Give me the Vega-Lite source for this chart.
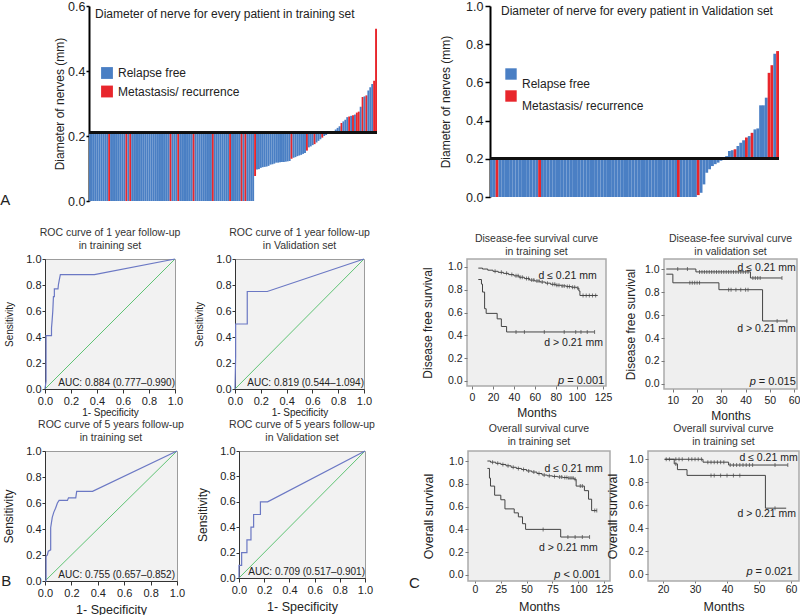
{
  "$schema": "https://vega.github.io/schema/vega-lite/v6.json",
  "padding": 0,
  "background": "white",
  "config": {
    "font": "Liberation Sans",
    "view": {"stroke": null},
    "axis": {"grid": false, "labelFont": "Liberation Sans", "titleFont": "Liberation Sans", "titleFontWeight": "normal", "labelColor": "#222", "titleColor": "#222", "domainColor": "#333", "tickColor": "#333"},
    "title": {"font": "Liberation Sans", "fontWeight": "normal", "fontSize": 10.5, "color": "#333", "lineHeight": 12.5, "offset": 2},
    "text": {"font": "Liberation Sans"}
  },
  "datasets": {
    "a1": [
      {"i":1,"d":0,"s":"RF"},{"i":2,"d":0,"s":"RF"},{"i":3,"d":0,"s":"RF"},{"i":4,"d":0,"s":"RF"},{"i":5,"d":0,"s":"RF"},{"i":6,"d":0,"s":"RF"},{"i":7,"d":0,"s":"RF"},{"i":8,"d":0,"s":"RF"},{"i":9,"d":0,"s":"RF"},{"i":10,"d":0,"s":"RF"},
      {"i":11,"d":0,"s":"MR"},{"i":12,"d":0,"s":"RF"},{"i":13,"d":0,"s":"RF"},{"i":14,"d":0,"s":"RF"},{"i":15,"d":0,"s":"RF"},{"i":16,"d":0,"s":"RF"},{"i":17,"d":0,"s":"RF"},{"i":18,"d":0,"s":"RF"},{"i":19,"d":0,"s":"RF"},{"i":20,"d":0,"s":"MR"},
      {"i":21,"d":0,"s":"RF"},{"i":22,"d":0,"s":"MR"},{"i":23,"d":0,"s":"RF"},{"i":24,"d":0,"s":"RF"},{"i":25,"d":0,"s":"RF"},{"i":26,"d":0,"s":"RF"},{"i":27,"d":0,"s":"RF"},{"i":28,"d":0,"s":"RF"},{"i":29,"d":0,"s":"RF"},{"i":30,"d":0,"s":"RF"},
      {"i":31,"d":0,"s":"RF"},{"i":32,"d":0,"s":"RF"},{"i":33,"d":0,"s":"RF"},{"i":34,"d":0,"s":"RF"},{"i":35,"d":0,"s":"RF"},{"i":36,"d":0,"s":"RF"},{"i":37,"d":0,"s":"RF"},{"i":38,"d":0,"s":"RF"},{"i":39,"d":0,"s":"RF"},{"i":40,"d":0,"s":"RF"},
      {"i":41,"d":0,"s":"RF"},{"i":42,"d":0,"s":"RF"},{"i":43,"d":0,"s":"MR"},{"i":44,"d":0,"s":"RF"},{"i":45,"d":0,"s":"RF"},{"i":46,"d":0,"s":"RF"},{"i":47,"d":0,"s":"MR"},{"i":48,"d":0,"s":"RF"},{"i":49,"d":0,"s":"RF"},{"i":50,"d":0,"s":"RF"},
      {"i":51,"d":0,"s":"RF"},{"i":52,"d":0,"s":"RF"},{"i":53,"d":0,"s":"RF"},{"i":54,"d":0,"s":"RF"},{"i":55,"d":0,"s":"MR"},{"i":56,"d":0,"s":"RF"},{"i":57,"d":0,"s":"RF"},{"i":58,"d":0,"s":"RF"},{"i":59,"d":0,"s":"RF"},{"i":60,"d":0,"s":"RF"},
      {"i":61,"d":0,"s":"RF"},{"i":62,"d":0,"s":"RF"},{"i":63,"d":0,"s":"RF"},{"i":64,"d":0,"s":"RF"},{"i":65,"d":0,"s":"MR"},{"i":66,"d":0,"s":"RF"},{"i":67,"d":0,"s":"RF"},{"i":68,"d":0,"s":"RF"},{"i":69,"d":0,"s":"RF"},{"i":70,"d":0,"s":"RF"},
      {"i":71,"d":0,"s":"RF"},{"i":72,"d":0,"s":"RF"},{"i":73,"d":0,"s":"RF"},{"i":74,"d":0,"s":"MR"},{"i":75,"d":0,"s":"RF"},{"i":76,"d":0,"s":"RF"},{"i":77,"d":0,"s":"RF"},{"i":78,"d":0,"s":"RF"},{"i":79,"d":0,"s":"RF"},{"i":80,"d":0,"s":"MR"},
      {"i":81,"d":0,"s":"RF"},{"i":82,"d":0,"s":"MR"},{"i":83,"d":0,"s":"RF"},{"i":84,"d":0,"s":"RF"},{"i":85,"d":0,"s":"RF"},{"i":86,"d":0,"s":"RF"},{"i":87,"d":0.077,"s":"MR"},{"i":88,"d":0.097,"s":"RF"},{"i":89,"d":0.098,"s":"RF"},{"i":90,"d":0.102,"s":"RF"},
      {"i":91,"d":0.104,"s":"RF"},{"i":92,"d":0.105,"s":"RF"},{"i":93,"d":0.106,"s":"RF"},{"i":94,"d":0.108,"s":"RF"},{"i":95,"d":0.112,"s":"RF"},{"i":96,"d":0.113,"s":"RF"},{"i":97,"d":0.115,"s":"RF"},{"i":98,"d":0.118,"s":"RF"},{"i":99,"d":0.118,"s":"RF"},{"i":100,"d":0.119,"s":"RF"},
      {"i":101,"d":0.12,"s":"RF"},{"i":102,"d":0.12,"s":"RF"},{"i":103,"d":0.121,"s":"RF"},{"i":104,"d":0.122,"s":"RF"},{"i":105,"d":0.123,"s":"RF"},{"i":106,"d":0.13,"s":"MR"},{"i":107,"d":0.133,"s":"RF"},{"i":108,"d":0.135,"s":"RF"},{"i":109,"d":0.138,"s":"RF"},{"i":110,"d":0.14,"s":"RF"},
      {"i":111,"d":0.142,"s":"RF"},{"i":112,"d":0.145,"s":"RF"},{"i":113,"d":0.148,"s":"RF"},{"i":114,"d":0.155,"s":"MR"},{"i":115,"d":0.165,"s":"RF"},{"i":116,"d":0.168,"s":"RF"},{"i":117,"d":0.172,"s":"RF"},{"i":118,"d":0.175,"s":"MR"},{"i":119,"d":0.18,"s":"RF"},{"i":120,"d":0.185,"s":"RF"},
      {"i":121,"d":0.19,"s":"RF"},{"i":122,"d":0.195,"s":"MR"},{"i":123,"d":0.2,"s":"RF"},{"i":124,"d":0.203,"s":"RF"},{"i":125,"d":0.206,"s":"RF"},{"i":126,"d":0.208,"s":"RF"},{"i":127,"d":0.21,"s":"RF"},{"i":128,"d":0.215,"s":"RF"},{"i":129,"d":0.22,"s":"RF"},{"i":130,"d":0.225,"s":"RF"},
      {"i":131,"d":0.23,"s":"RF"},{"i":132,"d":0.24,"s":"MR"},{"i":133,"d":0.245,"s":"RF"},{"i":134,"d":0.25,"s":"RF"},{"i":135,"d":0.258,"s":"RF"},{"i":136,"d":0.26,"s":"MR"},{"i":137,"d":0.262,"s":"RF"},{"i":138,"d":0.264,"s":"MR"},{"i":139,"d":0.266,"s":"RF"},{"i":140,"d":0.272,"s":"MR"},
      {"i":141,"d":0.275,"s":"MR"},{"i":142,"d":0.29,"s":"RF"},{"i":143,"d":0.32,"s":"MR"},{"i":144,"d":0.322,"s":"RF"},{"i":145,"d":0.325,"s":"MR"},{"i":146,"d":0.34,"s":"RF"},{"i":147,"d":0.35,"s":"RF"},{"i":148,"d":0.36,"s":"RF"},{"i":149,"d":0.37,"s":"MR"},{"i":150,"d":0.53,"s":"MR"}
    ],
    "a2": [
      {"i":1,"d":0,"s":"RF"},{"i":2,"d":0,"s":"RF"},{"i":3,"d":0,"s":"MR"},{"i":4,"d":0,"s":"RF"},{"i":5,"d":0,"s":"RF"},{"i":6,"d":0,"s":"RF"},{"i":7,"d":0,"s":"RF"},{"i":8,"d":0,"s":"RF"},{"i":9,"d":0,"s":"RF"},{"i":10,"d":0,"s":"RF"},
      {"i":11,"d":0,"s":"RF"},{"i":12,"d":0,"s":"RF"},{"i":13,"d":0,"s":"RF"},{"i":14,"d":0,"s":"RF"},{"i":15,"d":0,"s":"RF"},{"i":16,"d":0,"s":"RF"},{"i":17,"d":0,"s":"RF"},{"i":18,"d":0,"s":"MR"},{"i":19,"d":0,"s":"RF"},{"i":20,"d":0,"s":"RF"},
      {"i":21,"d":0,"s":"RF"},{"i":22,"d":0,"s":"RF"},{"i":23,"d":0,"s":"RF"},{"i":24,"d":0,"s":"RF"},{"i":25,"d":0,"s":"RF"},{"i":26,"d":0,"s":"RF"},{"i":27,"d":0,"s":"RF"},{"i":28,"d":0,"s":"RF"},{"i":29,"d":0,"s":"RF"},{"i":30,"d":0,"s":"RF"},
      {"i":31,"d":0,"s":"RF"},{"i":32,"d":0,"s":"RF"},{"i":33,"d":0,"s":"RF"},{"i":34,"d":0,"s":"RF"},{"i":35,"d":0,"s":"RF"},{"i":36,"d":0,"s":"RF"},{"i":37,"d":0,"s":"RF"},{"i":38,"d":0,"s":"RF"},{"i":39,"d":0,"s":"RF"},{"i":40,"d":0,"s":"RF"},
      {"i":41,"d":0,"s":"RF"},{"i":42,"d":0,"s":"RF"},{"i":43,"d":0,"s":"RF"},{"i":44,"d":0,"s":"RF"},{"i":45,"d":0,"s":"RF"},{"i":46,"d":0,"s":"RF"},{"i":47,"d":0,"s":"RF"},{"i":48,"d":0,"s":"RF"},{"i":49,"d":0,"s":"RF"},{"i":50,"d":0,"s":"RF"},
      {"i":51,"d":0,"s":"RF"},{"i":52,"d":0,"s":"RF"},{"i":53,"d":0,"s":"RF"},{"i":54,"d":0,"s":"RF"},{"i":55,"d":0,"s":"RF"},{"i":56,"d":0,"s":"RF"},{"i":57,"d":0,"s":"RF"},{"i":58,"d":0,"s":"RF"},{"i":59,"d":0,"s":"RF"},{"i":60,"d":0,"s":"RF"},
      {"i":61,"d":0,"s":"RF"},{"i":62,"d":0,"s":"RF"},{"i":63,"d":0,"s":"RF"},{"i":64,"d":0,"s":"RF"},{"i":65,"d":0,"s":"RF"},{"i":66,"d":0,"s":"RF"},{"i":67,"d":0,"s":"MR"},{"i":68,"d":0,"s":"RF"},{"i":69,"d":0,"s":"RF"},{"i":70,"d":0,"s":"RF"},
      {"i":71,"d":0,"s":"RF"},{"i":72,"d":0,"s":"RF"},{"i":73,"d":0,"s":"RF"},{"i":74,"d":0.01,"s":"MR"},{"i":75,"d":0.022,"s":"RF"},{"i":76,"d":0.066,"s":"RF"},{"i":77,"d":0.127,"s":"RF"},{"i":78,"d":0.145,"s":"RF"},{"i":79,"d":0.162,"s":"RF"},{"i":80,"d":0.172,"s":"RF"},
      {"i":81,"d":0.18,"s":"RF"},{"i":82,"d":0.19,"s":"RF"},{"i":83,"d":0.2,"s":"RF"},{"i":84,"d":0.214,"s":"RF"},{"i":85,"d":0.241,"s":"RF"},{"i":86,"d":0.245,"s":"RF"},{"i":87,"d":0.25,"s":"MR"},{"i":88,"d":0.267,"s":"RF"},{"i":89,"d":0.284,"s":"RF"},{"i":90,"d":0.297,"s":"RF"},
      {"i":91,"d":0.311,"s":"MR"},{"i":92,"d":0.319,"s":"RF"},{"i":93,"d":0.336,"s":"MR"},{"i":94,"d":0.354,"s":"RF"},{"i":95,"d":0.359,"s":"RF"},{"i":96,"d":0.48,"s":"RF"},{"i":97,"d":0.48,"s":"RF"},{"i":98,"d":0.52,"s":"RF"},{"i":99,"d":0.65,"s":"MR"},{"i":100,"d":0.69,"s":"MR"},
      {"i":101,"d":0.75,"s":"RF"},{"i":102,"d":0.764,"s":"MR"}
    ],
    "roc": [
      {"p":"b1","k":1,"x":0,"y":0},{"p":"b1","k":2,"x":0.008,"y":0.06},{"p":"b1","k":3,"x":0.008,"y":0.41},{"p":"b1","k":4,"x":0.02,"y":0.41},{"p":"b1","k":5,"x":0.05,"y":0.41},{"p":"b1","k":6,"x":0.05,"y":0.47},{"p":"b1","k":7,"x":0.055,"y":0.53},{"p":"b1","k":8,"x":0.06,"y":0.6},{"p":"b1","k":9,"x":0.065,"y":0.71},{"p":"b1","k":10,"x":0.072,"y":0.71},{"p":"b1","k":11,"x":0.072,"y":0.77},{"p":"b1","k":12,"x":0.1,"y":0.77},{"p":"b1","k":13,"x":0.103,"y":0.8},{"p":"b1","k":14,"x":0.11,"y":0.84},{"p":"b1","k":15,"x":0.118,"y":0.88},{"p":"b1","k":16,"x":0.38,"y":0.88},{"p":"b1","k":17,"x":1,"y":1},
      {"p":"b2","k":1,"x":0,"y":0},{"p":"b2","k":2,"x":0.005,"y":0.25},{"p":"b2","k":3,"x":0.005,"y":0.5},{"p":"b2","k":4,"x":0.095,"y":0.5},{"p":"b2","k":5,"x":0.095,"y":0.75},{"p":"b2","k":6,"x":0.25,"y":0.75},{"p":"b2","k":7,"x":1,"y":1},
      {"p":"b3","k":1,"x":0,"y":0},{"p":"b3","k":2,"x":0.008,"y":0},{"p":"b3","k":3,"x":0.008,"y":0.19},{"p":"b3","k":4,"x":0.018,"y":0.2},{"p":"b3","k":5,"x":0.025,"y":0.23},{"p":"b3","k":6,"x":0.043,"y":0.24},{"p":"b3","k":7,"x":0.043,"y":0.41},{"p":"b3","k":8,"x":0.055,"y":0.49},{"p":"b3","k":9,"x":0.067,"y":0.53},{"p":"b3","k":10,"x":0.08,"y":0.56},{"p":"b3","k":11,"x":0.094,"y":0.6},{"p":"b3","k":12,"x":0.107,"y":0.62},{"p":"b3","k":13,"x":0.17,"y":0.62},{"p":"b3","k":14,"x":0.178,"y":0.64},{"p":"b3","k":15,"x":0.233,"y":0.64},{"p":"b3","k":16,"x":0.24,"y":0.69},{"p":"b3","k":17,"x":0.36,"y":0.69},{"p":"b3","k":18,"x":1,"y":1},
      {"p":"b4","k":1,"x":0,"y":0},{"p":"b4","k":2,"x":0,"y":0.1},{"p":"b4","k":3,"x":0.021,"y":0.1},{"p":"b4","k":4,"x":0.021,"y":0.2},{"p":"b4","k":5,"x":0.063,"y":0.2},{"p":"b4","k":6,"x":0.063,"y":0.3},{"p":"b4","k":7,"x":0.095,"y":0.3},{"p":"b4","k":8,"x":0.095,"y":0.4},{"p":"b4","k":9,"x":0.116,"y":0.4},{"p":"b4","k":10,"x":0.116,"y":0.5},{"p":"b4","k":11,"x":0.17,"y":0.5},{"p":"b4","k":12,"x":0.17,"y":0.6},{"p":"b4","k":13,"x":0.227,"y":0.6},{"p":"b4","k":14,"x":1,"y":1}
    ],
    "km": [
      {"p":"c1","g":"u","t":6,"s":0.99},{"p":"c1","g":"u","t":10,"s":0.982},{"p":"c1","g":"u","t":15,"s":0.972},{"p":"c1","g":"u","t":20,"s":0.962},{"p":"c1","g":"u","t":25,"s":0.953},{"p":"c1","g":"u","t":30,"s":0.944},{"p":"c1","g":"u","t":35,"s":0.933},{"p":"c1","g":"u","t":40,"s":0.922},{"p":"c1","g":"u","t":45,"s":0.91},{"p":"c1","g":"u","t":50,"s":0.898},{"p":"c1","g":"u","t":55,"s":0.885},{"p":"c1","g":"u","t":60,"s":0.877},{"p":"c1","g":"u","t":65,"s":0.868},{"p":"c1","g":"u","t":70,"s":0.858},{"p":"c1","g":"u","t":75,"s":0.848},{"p":"c1","g":"u","t":80,"s":0.84},{"p":"c1","g":"u","t":85,"s":0.834},{"p":"c1","g":"u","t":90,"s":0.828},{"p":"c1","g":"u","t":95,"s":0.822},{"p":"c1","g":"u","t":100,"s":0.815},{"p":"c1","g":"u","t":102,"s":0.79},{"p":"c1","g":"u","t":103,"s":0.75},{"p":"c1","g":"u","t":120,"s":0.75},
      {"p":"c1","g":"l","t":6,"s":0.89},{"p":"c1","g":"l","t":9,"s":0.85},{"p":"c1","g":"l","t":10,"s":0.78},{"p":"c1","g":"l","t":12,"s":0.634},{"p":"c1","g":"l","t":13.5,"s":0.593},{"p":"c1","g":"l","t":24,"s":0.545},{"p":"c1","g":"l","t":28,"s":0.478},{"p":"c1","g":"l","t":33,"s":0.43},{"p":"c1","g":"l","t":117,"s":0.43},
      {"p":"c2","g":"u","t":7.3,"s":1},{"p":"c2","g":"u","t":19.5,"s":0.975},{"p":"c2","g":"u","t":42,"s":0.922},{"p":"c2","g":"u","t":55,"s":0.922},
      {"p":"c2","g":"l","t":7.3,"s":0.955},{"p":"c2","g":"l","t":10,"s":0.88},{"p":"c2","g":"l","t":29,"s":0.82},{"p":"c2","g":"l","t":47,"s":0.548},{"p":"c2","g":"l","t":57.3,"s":0.548},
      {"p":"c3","g":"u","t":12,"s":1},{"p":"c3","g":"u","t":15,"s":0.99},{"p":"c3","g":"u","t":20,"s":0.98},{"p":"c3","g":"u","t":25,"s":0.97},{"p":"c3","g":"u","t":30,"s":0.958},{"p":"c3","g":"u","t":35,"s":0.945},{"p":"c3","g":"u","t":40,"s":0.935},{"p":"c3","g":"u","t":45,"s":0.925},{"p":"c3","g":"u","t":50,"s":0.913},{"p":"c3","g":"u","t":55,"s":0.903},{"p":"c3","g":"u","t":60,"s":0.89},{"p":"c3","g":"u","t":65,"s":0.877},{"p":"c3","g":"u","t":70,"s":0.87},{"p":"c3","g":"u","t":75,"s":0.865},{"p":"c3","g":"u","t":80,"s":0.86},{"p":"c3","g":"u","t":85,"s":0.855},{"p":"c3","g":"u","t":90,"s":0.85},{"p":"c3","g":"u","t":96,"s":0.84},{"p":"c3","g":"u","t":98,"s":0.78},{"p":"c3","g":"u","t":106,"s":0.74},{"p":"c3","g":"u","t":110,"s":0.665},{"p":"c3","g":"u","t":113,"s":0.565},{"p":"c3","g":"u","t":118,"s":0.565},
      {"p":"c3","g":"l","t":12,"s":0.935},{"p":"c3","g":"l","t":14,"s":0.85},{"p":"c3","g":"l","t":15,"s":0.78},{"p":"c3","g":"l","t":19,"s":0.7},{"p":"c3","g":"l","t":25,"s":0.66},{"p":"c3","g":"l","t":29,"s":0.58},{"p":"c3","g":"l","t":38,"s":0.545},{"p":"c3","g":"l","t":42,"s":0.51},{"p":"c3","g":"l","t":46,"s":0.45},{"p":"c3","g":"l","t":49,"s":0.4},{"p":"c3","g":"l","t":83,"s":0.333},{"p":"c3","g":"l","t":111,"s":0.333},
      {"p":"c4","g":"u","t":20.5,"s":1},{"p":"c4","g":"u","t":32.5,"s":0.975},{"p":"c4","g":"u","t":40.5,"s":0.95},{"p":"c4","g":"u","t":59,"s":0.95},
      {"p":"c4","g":"l","t":20.5,"s":1},{"p":"c4","g":"l","t":23.5,"s":0.96},{"p":"c4","g":"l","t":24.5,"s":0.91},{"p":"c4","g":"l","t":27.5,"s":0.86},{"p":"c4","g":"l","t":52,"s":0.575},{"p":"c4","g":"l","t":58.5,"s":0.575}
    ],
    "cen": [
      {"p":"c1","t":22,"s":0.962},{"p":"c1","t":28,"s":0.953},{"p":"c1","t":33,"s":0.944},{"p":"c1","t":38,"s":0.933},{"p":"c1","t":42,"s":0.922},{"p":"c1","t":44,"s":0.922},{"p":"c1","t":46,"s":0.91},{"p":"c1","t":48,"s":0.91},{"p":"c1","t":52,"s":0.898},{"p":"c1","t":54,"s":0.898},{"p":"c1","t":57,"s":0.885},{"p":"c1","t":59,"s":0.885},{"p":"c1","t":62,"s":0.877},{"p":"c1","t":64,"s":0.877},{"p":"c1","t":67,"s":0.868},{"p":"c1","t":72,"s":0.858},{"p":"c1","t":77,"s":0.848},{"p":"c1","t":79,"s":0.848},{"p":"c1","t":81,"s":0.84},{"p":"c1","t":83,"s":0.84},{"p":"c1","t":86,"s":0.834},{"p":"c1","t":88,"s":0.834},{"p":"c1","t":91,"s":0.828},{"p":"c1","t":93,"s":0.828},{"p":"c1","t":96,"s":0.822},{"p":"c1","t":98,"s":0.822},{"p":"c1","t":101,"s":0.815},{"p":"c1","t":106,"s":0.75},{"p":"c1","t":109,"s":0.75},{"p":"c1","t":112,"s":0.75},{"p":"c1","t":115,"s":0.75},{"p":"c1","t":118,"s":0.75},
      {"p":"c1","t":42,"s":0.43},{"p":"c1","t":50,"s":0.43},{"p":"c1","t":69,"s":0.43},{"p":"c1","t":88,"s":0.43},{"p":"c1","t":99,"s":0.43},{"p":"c1","t":104,"s":0.43},{"p":"c1","t":110,"s":0.43},{"p":"c1","t":117,"s":0.43},
      {"p":"c2","t":12,"s":1},{"p":"c2","t":16,"s":1},{"p":"c2","t":21,"s":0.975},{"p":"c2","t":22,"s":0.975},{"p":"c2","t":23,"s":0.975},{"p":"c2","t":24,"s":0.975},{"p":"c2","t":25,"s":0.975},{"p":"c2","t":26,"s":0.975},{"p":"c2","t":27,"s":0.975},{"p":"c2","t":28,"s":0.975},{"p":"c2","t":29,"s":0.975},{"p":"c2","t":30,"s":0.975},{"p":"c2","t":31,"s":0.975},{"p":"c2","t":32,"s":0.975},{"p":"c2","t":33,"s":0.975},{"p":"c2","t":34,"s":0.975},{"p":"c2","t":35,"s":0.975},{"p":"c2","t":36,"s":0.975},{"p":"c2","t":37,"s":0.975},{"p":"c2","t":38,"s":0.975},{"p":"c2","t":39,"s":0.975},{"p":"c2","t":40,"s":0.975},{"p":"c2","t":41,"s":0.975},{"p":"c2","t":43,"s":0.922},{"p":"c2","t":44,"s":0.922},{"p":"c2","t":45,"s":0.922},{"p":"c2","t":46,"s":0.922},{"p":"c2","t":55,"s":0.922},
      {"p":"c2","t":17,"s":0.88},{"p":"c2","t":18,"s":0.88},{"p":"c2","t":19,"s":0.88},{"p":"c2","t":20,"s":0.88},{"p":"c2","t":21,"s":0.88},{"p":"c2","t":33,"s":0.82},{"p":"c2","t":34,"s":0.82},{"p":"c2","t":36,"s":0.82},{"p":"c2","t":38,"s":0.82},{"p":"c2","t":40,"s":0.82},{"p":"c2","t":41,"s":0.82},{"p":"c2","t":53,"s":0.548},{"p":"c2","t":57,"s":0.548},
      {"p":"c3","t":17,"s":0.99},{"p":"c3","t":22,"s":0.98},{"p":"c3","t":27,"s":0.97},{"p":"c3","t":32,"s":0.958},{"p":"c3","t":37,"s":0.945},{"p":"c3","t":42,"s":0.935},{"p":"c3","t":47,"s":0.925},{"p":"c3","t":52,"s":0.913},{"p":"c3","t":57,"s":0.903},{"p":"c3","t":62,"s":0.89},{"p":"c3","t":67,"s":0.877},{"p":"c3","t":72,"s":0.87},{"p":"c3","t":77,"s":0.865},{"p":"c3","t":82,"s":0.86},{"p":"c3","t":84,"s":0.86},{"p":"c3","t":87,"s":0.855},{"p":"c3","t":89,"s":0.855},{"p":"c3","t":91,"s":0.85},{"p":"c3","t":93,"s":0.85},{"p":"c3","t":95,"s":0.85},{"p":"c3","t":97,"s":0.84},{"p":"c3","t":102,"s":0.78},{"p":"c3","t":104,"s":0.78},{"p":"c3","t":116,"s":0.565},{"p":"c3","t":118,"s":0.565},
      {"p":"c3","t":66,"s":0.4},{"p":"c3","t":90,"s":0.333},{"p":"c3","t":97,"s":0.333},{"p":"c3","t":104,"s":0.333},{"p":"c3","t":111,"s":0.333},
      {"p":"c4","t":21,"s":1},{"p":"c4","t":22,"s":1},{"p":"c4","t":24,"s":1},{"p":"c4","t":25,"s":1},{"p":"c4","t":26,"s":1},{"p":"c4","t":28,"s":1},{"p":"c4","t":29,"s":1},{"p":"c4","t":30,"s":1},{"p":"c4","t":31,"s":1},{"p":"c4","t":32,"s":1},{"p":"c4","t":34,"s":0.975},{"p":"c4","t":35,"s":0.975},{"p":"c4","t":36,"s":0.975},{"p":"c4","t":37,"s":0.975},{"p":"c4","t":38,"s":0.975},{"p":"c4","t":39,"s":0.975},{"p":"c4","t":41,"s":0.95},{"p":"c4","t":42,"s":0.95},{"p":"c4","t":43,"s":0.95},{"p":"c4","t":44,"s":0.95},{"p":"c4","t":45,"s":0.95},{"p":"c4","t":46,"s":0.95},{"p":"c4","t":47,"s":0.95},{"p":"c4","t":48,"s":0.95},{"p":"c4","t":55,"s":0.95},{"p":"c4","t":59,"s":0.95},
      {"p":"c4","t":24,"s":0.96},{"p":"c4","t":35,"s":0.86},{"p":"c4","t":36,"s":0.86},{"p":"c4","t":38,"s":0.86},{"p":"c4","t":40,"s":0.86},{"p":"c4","t":42,"s":0.86},{"p":"c4","t":44,"s":0.86},{"p":"c4","t":55,"s":0.575}
    ]
  },
  "bounds": "flush",
  "spacing": 253,
  "vconcat": [
    {
      "bounds": "flush",
      "spacing": 43,
      "hconcat": [
        {
          "width": 1, "height": 195,
          "data": {"values": [{}]},
          "mark": {"type": "text", "text": ""},
          "title": {"text": "A", "orient": "left", "anchor": "start", "angle": 0, "frame": "group", "align": "right", "baseline": "alphabetic", "fontSize": 15, "color": "#222", "offset": 24.7, "dy": 4}
        },
        {
          "bounds": "flush",
          "spacing": 113,
          "resolve": {"scale": {"color": "independent"}, "legend": {"color": "independent"}},
          "hconcat": [
            {
              "width": 288, "height": 195,
              "data": {"name": "a1"},
              "title": {"text": "Diameter of nerve for every patient in training set", "anchor": "start", "frame": "group", "offset": -30, "baseline": "alphabetic", "dx": 6, "fontSize": 12, "color": "#222"},
              "layer": [
                {
                  "mark": {"type": "bar"},
                  "encoding": {
                    "x": {"field": "i", "type": "ordinal", "axis": null, "scale": {"paddingInner": 0, "paddingOuter": 0}},
                    "y": {"field": "d", "type": "quantitative", "scale": {"domain": [0, 0.6], "nice": false}, "axis": {"values": [0, 0.2, 0.4, 0.6], "tickCount": 20, "format": ".1f", "labelOverlap": false, "labelFlush": false, "domainColor": "#000", "domainWidth": 2, "tickColor": "#000", "tickSize": 3, "tickWidth": 1.5, "labelFontSize": 12.5, "labelPadding": 1, "title": "Diameter of nerves (mm)", "titleFontSize": 12, "titlePadding": 1}},
                    "y2": {"datum": 0.21},
                    "color": {"field": "s", "type": "nominal", "scale": {"domain": ["RF", "MR"], "range": ["#4a7fc4", "#e8262c"]}, "legend": {"orient": "none", "legendX": 12, "legendY": 61, "title": null, "symbolType": "square", "symbolSize": 140, "symbolStrokeWidth": 0, "labelFontSize": 12, "labelColor": "#222", "labelOffset": 5, "rowPadding": 6.5, "labelExpr": "datum.value == 'RF' ? 'Relapse free' : 'Metastasis/ recurrence'"}}
                  }
                },
                {"mark": {"type": "rule", "color": "#111", "strokeWidth": 2}, "encoding": {"y": {"datum": 0.21}}}
              ]
            },
            {
              "width": 289, "height": 191,
              "data": {"name": "a2"},
              "title": {"text": "Diameter of nerve for every patient in Validation set", "anchor": "start", "frame": "group", "offset": -26.5, "baseline": "alphabetic", "dx": 11, "fontSize": 12, "color": "#222"},
              "layer": [
                {
                  "mark": {"type": "bar"},
                  "encoding": {
                    "x": {"field": "i", "type": "ordinal", "axis": null, "scale": {"paddingInner": 0, "paddingOuter": 0}},
                    "y": {"field": "d", "type": "quantitative", "scale": {"domain": [0, 1], "nice": false}, "axis": {"values": [0, 0.2, 0.4, 0.6, 0.8, 1], "tickCount": 20, "format": ".1f", "labelOverlap": false, "labelFlush": false, "domainColor": "#000", "domainWidth": 2, "tickColor": "#000", "tickSize": 5, "tickWidth": 1.5, "labelFontSize": 12.5, "labelPadding": 2, "title": "Diameter of nerves (mm)", "titleFontSize": 12, "titlePadding": 13}},
                    "y2": {"datum": 0.2},
                    "color": {"field": "s", "type": "nominal", "scale": {"domain": ["RF", "MR"], "range": ["#4a7fc4", "#e8262c"]}, "legend": {"orient": "none", "legendX": 15, "legendY": 62, "title": null, "symbolType": "square", "symbolSize": 130, "symbolStrokeWidth": 0, "labelFontSize": 12, "labelColor": "#222", "labelOffset": 5, "rowPadding": 0, "labelExpr": "datum.value == 'RF' ? 'Relapse free' : 'Metastasis/ recurrence'", "encode": {"labels": {"update": {"dy": {"value": 10}}}}}}
                  }
                },
                {"mark": {"type": "rule", "color": "#111", "strokeWidth": 2}, "encoding": {"y": {"datum": 0.2}}}
              ]
            }
          ]
        }
      ]
    },
    {
      "bounds": "flush",
      "spacing": 192,
      "vconcat": [
        {
          "bounds": "flush",
          "spacing": 422,
          "hconcat": [
            {
              "bounds": "flush",
              "spacing": 60,
              "hconcat": [
                {
                  "width": 130, "height": 130,
                  "title": {"text": ["ROC curve of 1 year follow-up", "in training set"]},
                  "view": {"fill": "#f2f2f2", "stroke": "#9c9c9c"},
                  "layer": [
                    {"data": {"values": [{}]}, "mark": {"type": "rule", "color": "#5fc374", "strokeWidth": 1}, "encoding": {
                      "x": {"datum": 0, "type": "quantitative", "scale": {"domain": [0, 1], "nice": false}, "axis": {"values": [0, 0.2, 0.4, 0.6, 0.8, 1], "tickCount": 20, "format": ".1f", "labelOverlap": false, "labelFlush": false, "tickSize": 4, "labelFontSize": 11, "labelPadding": 2, "title": "1- Specificity", "titleFontSize": 10, "titlePadding": 1}},
                      "y": {"datum": 0, "type": "quantitative", "scale": {"domain": [0, 1], "nice": false}, "axis": {"values": [0, 0.2, 0.4, 0.6, 0.8, 1], "tickCount": 20, "format": ".1f", "labelOverlap": false, "labelFlush": false, "tickSize": 3, "labelFontSize": 11, "labelPadding": 1, "title": "Sensitivity", "titleFontSize": 10, "titlePadding": 11}},
                      "x2": {"datum": 1}, "y2": {"datum": 1}}},
                    {"data": {"name": "roc"}, "transform": [{"filter": "datum.p == 'b1'"}], "mark": {"type": "line", "color": "#6b78c4", "strokeWidth": 1.2}, "encoding": {"x": {"field": "x", "type": "quantitative"}, "y": {"field": "y", "type": "quantitative"}, "order": {"field": "k"}}},
                    {"data": {"values": [{}]}, "mark": {"type": "text", "align": "right", "baseline": "middle", "fontSize": 10, "color": "#222"}, "encoding": {"x": {"datum": 1}, "y": {"datum": 0.05}, "text": {"value": "AUC: 0.884 (0.777–0.990)"}}}
                  ]
                },
                {
                  "width": 129, "height": 130,
                  "title": {"text": ["ROC curve of 1 year follow-up", "in Validation set"]},
                  "view": {"fill": "#f2f2f2", "stroke": "#9c9c9c"},
                  "layer": [
                    {"data": {"values": [{}]}, "mark": {"type": "rule", "color": "#5fc374", "strokeWidth": 1}, "encoding": {
                      "x": {"datum": 0, "type": "quantitative", "scale": {"domain": [0, 1], "nice": false}, "axis": {"values": [0, 0.2, 0.4, 0.6, 0.8, 1], "tickCount": 20, "format": ".1f", "labelOverlap": false, "labelFlush": false, "tickSize": 4, "labelFontSize": 11, "labelPadding": 2, "title": "1- Specificity", "titleFontSize": 10, "titlePadding": 1}},
                      "y": {"datum": 0, "type": "quantitative", "scale": {"domain": [0, 1], "nice": false}, "axis": {"values": [0, 0.2, 0.4, 0.6, 0.8, 1], "tickCount": 20, "format": ".1f", "labelOverlap": false, "labelFlush": false, "tickSize": 3, "labelFontSize": 11, "labelPadding": 1, "title": "Sensitivity", "titleFontSize": 10, "titlePadding": 11}},
                      "x2": {"datum": 1}, "y2": {"datum": 1}}},
                    {"data": {"name": "roc"}, "transform": [{"filter": "datum.p == 'b2'"}], "mark": {"type": "line", "color": "#6b78c4", "strokeWidth": 1.2}, "encoding": {"x": {"field": "x", "type": "quantitative"}, "y": {"field": "y", "type": "quantitative"}, "order": {"field": "k"}}},
                    {"data": {"values": [{}]}, "mark": {"type": "text", "align": "right", "baseline": "middle", "fontSize": 10, "color": "#222"}, "encoding": {"x": {"datum": 1}, "y": {"datum": 0.05}, "text": {"value": "AUC: 0.819 (0.544–1.094)"}}}
                  ]
                }
              ]
            },
            {
              "bounds": "flush",
              "spacing": 58,
              "hconcat": [
                {
                  "width": 139, "height": 127,
                  "title": {"text": ["Disease-fee survival curve", "in training set"]},
                  "view": {"fill": "#efefef", "stroke": "#aaaaaa", "strokeWidth": 1.5},
                  "layer": [
                    {"data": {"name": "km"}, "transform": [{"filter": "datum.p == 'c1'"}], "mark": {"type": "line", "interpolate": "step-after", "color": "#444", "strokeWidth": 1}, "encoding": {
                      "x": {"field": "t", "type": "quantitative", "scale": {"domain": [-4.8, 127.9], "nice": false, "zero": false}, "axis": {"values": [0, 20, 40, 60, 80, 100, 125], "tickCount": 20, "labelOverlap": false, "labelFlush": false, "domain": false, "tickSize": 3, "tickColor": "#777", "labelFontSize": 10.5, "labelPadding": 3, "title": "Months", "titleFontSize": 12, "titlePadding": 5}},
                      "y": {"field": "s", "type": "quantitative", "scale": {"domain": [-0.044, 1.07], "nice": false}, "axis": {"values": [0, 0.2, 0.4, 0.6, 0.8, 1], "tickCount": 20, "format": ".1f", "labelOverlap": false, "labelFlush": false, "domain": false, "tickSize": 3, "tickColor": "#777", "labelFontSize": 10.5, "labelPadding": 2, "title": "Disease free survival", "titleFontSize": 12, "titlePadding": 13}},
                      "detail": {"field": "g"}}},
                    {"data": {"name": "cen"}, "transform": [{"filter": "datum.p == 'c1'"}], "mark": {"type": "tick", "orient": "vertical", "size": 4, "thickness": 1, "color": "#444"}, "encoding": {"x": {"field": "t", "type": "quantitative"}, "y": {"field": "s", "type": "quantitative"}}},
                    {"data": {"values": [{}]}, "mark": {"type": "text", "align": "right", "baseline": "middle", "fontSize": 10.5, "color": "#222"}, "encoding": {"x": {"datum": 119}, "y": {"datum": 0.92}, "text": {"value": "d ≤ 0.21 mm"}}},
                    {"data": {"values": [{}]}, "mark": {"type": "text", "align": "right", "baseline": "middle", "fontSize": 10.5, "color": "#222"}, "encoding": {"x": {"datum": 125}, "y": {"datum": 0.336}, "text": {"value": "d > 0.21 mm"}}},
                    {"data": {"values": [{}]}, "mark": {"type": "text", "align": "right", "baseline": "middle", "fontSize": 11, "color": "#222"}, "encoding": {"x": {"datum": 126.2}, "y": {"datum": 0}, "text": {"value": "= 0.001"}}},
                    {"data": {"values": [{}]}, "mark": {"type": "text", "align": "right", "baseline": "middle", "fontSize": 11, "fontStyle": "italic", "color": "#222", "dx": -40}, "encoding": {"x": {"datum": 126.2}, "y": {"datum": 0}, "text": {"value": "p"}}}
                  ]
                },
                {
                  "width": 133, "height": 130,
                  "title": {"text": ["Disease-fee survival curve", "in validation set"]},
                  "view": {"fill": "#efefef", "stroke": "#aaaaaa", "strokeWidth": 1.5},
                  "layer": [
                    {"data": {"name": "km"}, "transform": [{"filter": "datum.p == 'c2'"}], "mark": {"type": "line", "interpolate": "step-after", "color": "#444", "strokeWidth": 1}, "encoding": {
                      "x": {"field": "t", "type": "quantitative", "scale": {"domain": [6.34, 61.2], "nice": false, "zero": false}, "axis": {"values": [10, 20, 30, 40, 50, 60], "tickCount": 20, "labelOverlap": false, "labelFlush": false, "domain": false, "tickSize": 3, "tickColor": "#777", "labelFontSize": 10.5, "labelPadding": 3, "title": "Months", "titleFontSize": 12, "titlePadding": 5}},
                      "y": {"field": "s", "type": "quantitative", "scale": {"domain": [-0.0435, 1.087], "nice": false}, "axis": {"values": [0, 0.2, 0.4, 0.6, 0.8, 1], "tickCount": 20, "format": ".1f", "labelOverlap": false, "labelFlush": false, "domain": false, "tickSize": 3, "tickColor": "#777", "labelFontSize": 10.5, "labelPadding": 2, "title": "Disease free survival", "titleFontSize": 12, "titlePadding": 7}},
                      "detail": {"field": "g"}}},
                    {"data": {"name": "cen"}, "transform": [{"filter": "datum.p == 'c2'"}], "mark": {"type": "tick", "orient": "vertical", "size": 4, "thickness": 1, "color": "#444"}, "encoding": {"x": {"field": "t", "type": "quantitative"}, "y": {"field": "s", "type": "quantitative"}}},
                    {"data": {"values": [{}]}, "mark": {"type": "text", "align": "right", "baseline": "middle", "fontSize": 10.5, "color": "#222"}, "encoding": {"x": {"datum": 60.7}, "y": {"datum": 1.01}, "text": {"value": "d ≤ 0.21 mm"}}},
                    {"data": {"values": [{}]}, "mark": {"type": "text", "align": "right", "baseline": "middle", "fontSize": 10.5, "color": "#222"}, "encoding": {"x": {"datum": 60.7}, "y": {"datum": 0.48}, "text": {"value": "d > 0.21 mm"}}},
                    {"data": {"values": [{}]}, "mark": {"type": "text", "align": "right", "baseline": "middle", "fontSize": 11, "color": "#222"}, "encoding": {"x": {"datum": 60.7}, "y": {"datum": 0.017}, "text": {"value": "= 0.015"}}},
                    {"data": {"values": [{}]}, "mark": {"type": "text", "align": "right", "baseline": "middle", "fontSize": 11, "fontStyle": "italic", "color": "#222", "dx": -40}, "encoding": {"x": {"datum": 60.7}, "y": {"datum": 0.017}, "text": {"value": "p"}}}
                  ]
                }
              ]
            }
          ]
        },
        {
          "bounds": "flush",
          "spacing": 423,
          "hconcat": [
            {
              "bounds": "flush",
              "spacing": 62,
              "title": {"text": "B", "orient": "left", "anchor": "start", "angle": 0, "frame": "group", "align": "right", "baseline": "alphabetic", "fontSize": 15, "color": "#222", "offset": -19, "dy": 135},
              "hconcat": [
                {
                  "width": 132, "height": 130,
                  "title": {"text": ["ROC curve of 5 years follow-up", "in training set"]},
                  "view": {"fill": "#f2f2f2", "stroke": "#9c9c9c"},
                  "layer": [
                    {"data": {"values": [{}]}, "mark": {"type": "rule", "color": "#5fc374", "strokeWidth": 1}, "encoding": {
                      "x": {"datum": 0, "type": "quantitative", "scale": {"domain": [0, 1], "nice": false}, "axis": {"values": [0, 0.2, 0.4, 0.6, 0.8, 1], "tickCount": 20, "format": ".1f", "labelOverlap": false, "labelFlush": false, "tickSize": 4, "labelFontSize": 11, "labelPadding": 2, "title": "1- Specificity", "titleFontSize": 12.5, "titlePadding": 5}},
                      "y": {"datum": 0, "type": "quantitative", "scale": {"domain": [0, 1], "nice": false}, "axis": {"values": [0, 0.2, 0.4, 0.6, 0.8, 1], "tickCount": 20, "format": ".1f", "labelOverlap": false, "labelFlush": false, "tickSize": 3, "labelFontSize": 11, "labelPadding": 1, "title": "Sensitivity", "titleFontSize": 12, "titlePadding": 10}},
                      "x2": {"datum": 1}, "y2": {"datum": 1}}},
                    {"data": {"name": "roc"}, "transform": [{"filter": "datum.p == 'b3'"}], "mark": {"type": "line", "color": "#6b78c4", "strokeWidth": 1.2}, "encoding": {"x": {"field": "x", "type": "quantitative"}, "y": {"field": "y", "type": "quantitative"}, "order": {"field": "k"}}},
                    {"data": {"values": [{}]}, "mark": {"type": "text", "align": "right", "baseline": "middle", "fontSize": 10, "color": "#222"}, "encoding": {"x": {"datum": 0.985}, "y": {"datum": 0.05}, "text": {"value": "AUC: 0.755 (0.657–0.852)"}}}
                  ]
                },
                {
                  "width": 126, "height": 127,
                  "title": {"text": ["ROC curve of 5 years follow-up", "in Validation set"]},
                  "view": {"fill": "#f2f2f2", "stroke": "#9c9c9c"},
                  "layer": [
                    {"data": {"values": [{}]}, "mark": {"type": "rule", "color": "#5fc374", "strokeWidth": 1}, "encoding": {
                      "x": {"datum": 0, "type": "quantitative", "scale": {"domain": [0, 1], "nice": false}, "axis": {"values": [0, 0.2, 0.4, 0.6, 0.8, 1], "tickCount": 20, "format": ".1f", "labelOverlap": false, "labelFlush": false, "tickSize": 4, "labelFontSize": 11, "labelPadding": 2, "title": "1- Specificity", "titleFontSize": 12.5, "titlePadding": 5}},
                      "y": {"datum": 0, "type": "quantitative", "scale": {"domain": [0, 1], "nice": false}, "axis": {"values": [0, 0.2, 0.4, 0.6, 0.8, 1], "tickCount": 20, "format": ".1f", "labelOverlap": false, "labelFlush": false, "tickSize": 3, "labelFontSize": 11, "labelPadding": 1, "title": "Sensitivity", "titleFontSize": 12, "titlePadding": 10}},
                      "x2": {"datum": 1}, "y2": {"datum": 1}}},
                    {"data": {"name": "roc"}, "transform": [{"filter": "datum.p == 'b4'"}], "mark": {"type": "line", "color": "#6b78c4", "strokeWidth": 1.2}, "encoding": {"x": {"field": "x", "type": "quantitative"}, "y": {"field": "y", "type": "quantitative"}, "order": {"field": "k"}}},
                    {"data": {"values": [{}]}, "mark": {"type": "text", "align": "right", "baseline": "middle", "fontSize": 10, "color": "#222"}, "encoding": {"x": {"datum": 1}, "y": {"datum": 0.05}, "text": {"value": "AUC: 0.709 (0.517–0.901)"}}}
                  ]
                }
              ]
            },
            {
              "bounds": "flush",
              "spacing": 38,
              "title": {"text": "C", "orient": "left", "anchor": "start", "angle": 0, "frame": "group", "align": "right", "baseline": "alphabetic", "fontSize": 15, "color": "#222", "offset": -9, "dy": 137},
              "hconcat": [
                {
                  "width": 142, "height": 130,
                  "title": {"text": ["Overall survival curve", "in training set"], "offset": 4},
                  "view": {"fill": "#efefef", "stroke": "#aaaaaa", "strokeWidth": 1.5},
                  "layer": [
                    {"data": {"name": "km"}, "transform": [{"filter": "datum.p == 'c3'"}], "mark": {"type": "line", "interpolate": "step-after", "color": "#444", "strokeWidth": 1}, "encoding": {
                      "x": {"field": "t", "type": "quantitative", "scale": {"domain": [-6.8, 130.8], "nice": false, "zero": false}, "axis": {"values": [0, 25, 50, 75, 100, 125], "tickCount": 20, "labelOverlap": false, "labelFlush": false, "domain": false, "tickSize": 2, "tickColor": "#777", "labelFontSize": 10.5, "labelPadding": 1, "title": "Months", "titleFontSize": 12.5, "titlePadding": 6}},
                      "y": {"field": "s", "type": "quantitative", "scale": {"domain": [-0.053, 1.088], "nice": false}, "axis": {"values": [0, 0.2, 0.4, 0.6, 0.8, 1], "tickCount": 20, "format": ".1f", "labelOverlap": false, "labelFlush": false, "domain": false, "tickSize": 3, "tickColor": "#777", "labelFontSize": 10.5, "labelPadding": 2, "title": "Overall survival", "titleFontSize": 12.5, "titlePadding": 13}},
                      "detail": {"field": "g"}}},
                    {"data": {"name": "cen"}, "transform": [{"filter": "datum.p == 'c3'"}], "mark": {"type": "tick", "orient": "vertical", "size": 4, "thickness": 1, "color": "#444"}, "encoding": {"x": {"field": "t", "type": "quantitative"}, "y": {"field": "s", "type": "quantitative"}}},
                    {"data": {"values": [{}]}, "mark": {"type": "text", "align": "right", "baseline": "middle", "fontSize": 10.5, "color": "#222"}, "encoding": {"x": {"datum": 123.7}, "y": {"datum": 0.927}, "text": {"value": "d ≤ 0.21 mm"}}},
                    {"data": {"values": [{}]}, "mark": {"type": "text", "align": "right", "baseline": "middle", "fontSize": 10.5, "color": "#222"}, "encoding": {"x": {"datum": 118.9}, "y": {"datum": 0.24}, "text": {"value": "d > 0.21 mm"}}},
                    {"data": {"values": [{}]}, "mark": {"type": "text", "align": "right", "baseline": "middle", "fontSize": 11, "color": "#222"}, "encoding": {"x": {"datum": 121.5}, "y": {"datum": 0}, "text": {"value": "< 0.001"}}},
                    {"data": {"values": [{}]}, "mark": {"type": "text", "align": "right", "baseline": "middle", "fontSize": 11, "fontStyle": "italic", "color": "#222", "dx": -40}, "encoding": {"x": {"datum": 121.5}, "y": {"datum": 0}, "text": {"value": "p"}}}
                  ]
                },
                {
                  "width": 151, "height": 130,
                  "title": {"text": ["Overall survival curve", "in training set"], "offset": 4},
                  "view": {"fill": "#efefef", "stroke": "#aaaaaa", "strokeWidth": 1.5},
                  "layer": [
                    {"data": {"name": "km"}, "transform": [{"filter": "datum.p == 'c4'"}], "mark": {"type": "line", "interpolate": "step-after", "color": "#444", "strokeWidth": 1}, "encoding": {
                      "x": {"field": "t", "type": "quantitative", "scale": {"domain": [15.3, 62.5], "nice": false, "zero": false}, "axis": {"values": [20, 30, 40, 50, 60], "tickCount": 20, "labelOverlap": false, "labelFlush": false, "domain": false, "tickSize": 2, "tickColor": "#777", "labelFontSize": 10.5, "labelPadding": 1, "title": "Months", "titleFontSize": 12.5, "titlePadding": 6}},
                      "y": {"field": "s", "type": "quantitative", "scale": {"domain": [-0.058, 1.072], "nice": false}, "axis": {"values": [0, 0.2, 0.4, 0.6, 0.8, 1], "tickCount": 20, "format": ".1f", "labelOverlap": false, "labelFlush": false, "domain": false, "tickSize": 3, "tickColor": "#777", "labelFontSize": 10.5, "labelPadding": 2, "title": "Overall survival", "titleFontSize": 12.5, "titlePadding": 9}},
                      "detail": {"field": "g"}}},
                    {"data": {"name": "cen"}, "transform": [{"filter": "datum.p == 'c4'"}], "mark": {"type": "tick", "orient": "vertical", "size": 4, "thickness": 1, "color": "#444"}, "encoding": {"x": {"field": "t", "type": "quantitative"}, "y": {"field": "s", "type": "quantitative"}}},
                    {"data": {"values": [{}]}, "mark": {"type": "text", "align": "right", "baseline": "middle", "fontSize": 10.5, "color": "#222"}, "encoding": {"x": {"datum": 62.1}, "y": {"datum": 1.01}, "text": {"value": "d ≤ 0.21 mm"}}},
                    {"data": {"values": [{}]}, "mark": {"type": "text", "align": "right", "baseline": "middle", "fontSize": 10.5, "color": "#222"}, "encoding": {"x": {"datum": 61.6}, "y": {"datum": 0.527}, "text": {"value": "d > 0.21 mm"}}},
                    {"data": {"values": [{}]}, "mark": {"type": "text", "align": "right", "baseline": "middle", "fontSize": 11, "color": "#222"}, "encoding": {"x": {"datum": 60.5}, "y": {"datum": 0.02}, "text": {"value": "= 0.021"}}},
                    {"data": {"values": [{}]}, "mark": {"type": "text", "align": "right", "baseline": "middle", "fontSize": 11, "fontStyle": "italic", "color": "#222", "dx": -40}, "encoding": {"x": {"datum": 60.5}, "y": {"datum": 0.02}, "text": {"value": "p"}}}
                  ]
                }
              ]
            }
          ]
        }
      ]
    }
  ]
}
